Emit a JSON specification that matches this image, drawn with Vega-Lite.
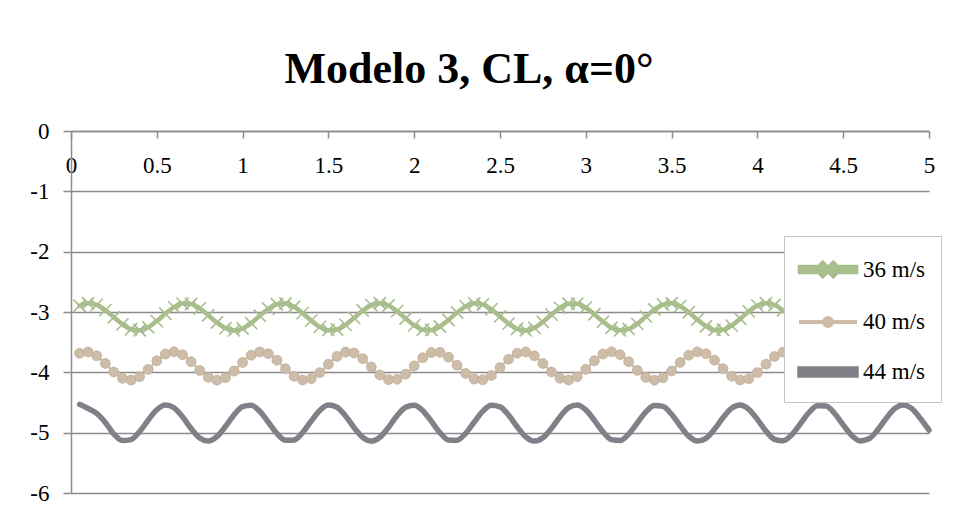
{
  "$schema": "https://vega.github.io/schema/vega-lite/v6.json",
  "width": 858,
  "height": 362,
  "autosize": {"type": "none"},
  "padding": {"left": 71, "top": 131, "right": 27, "bottom": 30},
  "background": "white",
  "config": {
    "view": {"stroke": null},
    "font": "Liberation Serif"
  },
  "title": {
    "text": "Modelo 3, CL, α=0°",
    "font": "Liberation Serif",
    "fontSize": 44,
    "fontWeight": "bold",
    "color": "#000000",
    "anchor": "middle",
    "frame": "group",
    "baseline": "alphabetic",
    "offset": -7,
    "dx": -31
  },
  "data": {"values": [
    {"s":"36 m/s","t":0.05,"v":-2.897},{"s":"36 m/s","t":0.10,"v":-2.855},{"s":"36 m/s","t":0.15,"v":-2.881},{"s":"36 m/s","t":0.20,"v":-2.968},{"s":"36 m/s","t":0.25,"v":-3.088},
    {"s":"36 m/s","t":0.30,"v":-3.205},{"s":"36 m/s","t":0.35,"v":-3.285},{"s":"36 m/s","t":0.40,"v":-3.303},{"s":"36 m/s","t":0.45,"v":-3.253},{"s":"36 m/s","t":0.50,"v":-3.151},
    {"s":"36 m/s","t":0.55,"v":-3.028},{"s":"36 m/s","t":0.60,"v":-2.920},{"s":"36 m/s","t":0.65,"v":-2.861},{"s":"36 m/s","t":0.70,"v":-2.867},{"s":"36 m/s","t":0.75,"v":-2.939},
    {"s":"36 m/s","t":0.80,"v":-3.053},{"s":"36 m/s","t":0.85,"v":-3.175},{"s":"36 m/s","t":0.90,"v":-3.268},{"s":"36 m/s","t":0.95,"v":-3.305},{"s":"36 m/s","t":1.00,"v":-3.274},
    {"s":"36 m/s","t":1.05,"v":-3.184},{"s":"36 m/s","t":1.10,"v":-3.062},{"s":"36 m/s","t":1.15,"v":-2.947},{"s":"36 m/s","t":1.20,"v":-2.871},{"s":"36 m/s","t":1.25,"v":-2.859},
    {"s":"36 m/s","t":1.30,"v":-2.913},{"s":"36 m/s","t":1.35,"v":-3.018},{"s":"36 m/s","t":1.40,"v":-3.142},{"s":"36 m/s","t":1.45,"v":-3.247},{"s":"36 m/s","t":1.50,"v":-3.301},
    {"s":"36 m/s","t":1.55,"v":-3.289},{"s":"36 m/s","t":1.60,"v":-3.213},{"s":"36 m/s","t":1.65,"v":-3.098},{"s":"36 m/s","t":1.70,"v":-2.976},{"s":"36 m/s","t":1.75,"v":-2.886},
    {"s":"36 m/s","t":1.80,"v":-2.855},{"s":"36 m/s","t":1.85,"v":-2.892},{"s":"36 m/s","t":1.90,"v":-2.985},{"s":"36 m/s","t":1.95,"v":-3.108},{"s":"36 m/s","t":2.00,"v":-3.221},
    {"s":"36 m/s","t":2.05,"v":-3.293},{"s":"36 m/s","t":2.10,"v":-3.299},{"s":"36 m/s","t":2.15,"v":-3.240},{"s":"36 m/s","t":2.20,"v":-3.132},{"s":"36 m/s","t":2.25,"v":-3.009},
    {"s":"36 m/s","t":2.30,"v":-2.907},{"s":"36 m/s","t":2.35,"v":-2.857},{"s":"36 m/s","t":2.40,"v":-2.875},{"s":"36 m/s","t":2.45,"v":-2.955},{"s":"36 m/s","t":2.50,"v":-3.073},
    {"s":"36 m/s","t":2.55,"v":-3.193},{"s":"36 m/s","t":2.60,"v":-3.278},{"s":"36 m/s","t":2.65,"v":-3.305},{"s":"36 m/s","t":2.70,"v":-3.263},{"s":"36 m/s","t":2.75,"v":-3.165},
    {"s":"36 m/s","t":2.80,"v":-3.043},{"s":"36 m/s","t":2.85,"v":-2.931},{"s":"36 m/s","t":2.90,"v":-2.864},{"s":"36 m/s","t":2.95,"v":-2.863},{"s":"36 m/s","t":3.00,"v":-2.927},
    {"s":"36 m/s","t":3.05,"v":-3.038},{"s":"36 m/s","t":3.10,"v":-3.161},{"s":"36 m/s","t":3.15,"v":-3.260},{"s":"36 m/s","t":3.20,"v":-3.304},{"s":"36 m/s","t":3.25,"v":-3.281},
    {"s":"36 m/s","t":3.30,"v":-3.197},{"s":"36 m/s","t":3.35,"v":-3.077},{"s":"36 m/s","t":3.40,"v":-2.959},{"s":"36 m/s","t":3.45,"v":-2.877},{"s":"36 m/s","t":3.50,"v":-2.856},
    {"s":"36 m/s","t":3.55,"v":-2.903},{"s":"36 m/s","t":3.60,"v":-3.004},{"s":"36 m/s","t":3.65,"v":-3.127},{"s":"36 m/s","t":3.70,"v":-3.236},{"s":"36 m/s","t":3.75,"v":-3.298},
    {"s":"36 m/s","t":3.80,"v":-3.294},{"s":"36 m/s","t":3.85,"v":-3.225},{"s":"36 m/s","t":3.90,"v":-3.112},{"s":"36 m/s","t":3.95,"v":-2.990},{"s":"36 m/s","t":4.00,"v":-2.894},
    {"s":"36 m/s","t":4.05,"v":-2.855},{"s":"36 m/s","t":4.10,"v":-2.884},{"s":"36 m/s","t":4.15,"v":-2.972},{"s":"36 m/s","t":4.20,"v":-3.093},{"s":"36 m/s","t":4.25,"v":-3.209},
    {"s":"36 m/s","t":4.30,"v":-3.287},{"s":"36 m/s","t":4.35,"v":-3.302},{"s":"36 m/s","t":4.40,"v":-3.250},{"s":"36 m/s","t":4.45,"v":-3.147},{"s":"36 m/s","t":4.50,"v":-3.023},
    {"s":"36 m/s","t":4.55,"v":-2.917},{"s":"36 m/s","t":4.60,"v":-2.860},{"s":"36 m/s","t":4.65,"v":-2.869},{"s":"36 m/s","t":4.70,"v":-2.943},{"s":"36 m/s","t":4.75,"v":-3.058},
    {"s":"36 m/s","t":4.80,"v":-3.179},{"s":"36 m/s","t":4.85,"v":-3.271},{"s":"36 m/s","t":4.90,"v":-3.305},{"s":"36 m/s","t":4.95,"v":-3.271},{"s":"36 m/s","t":5.00,"v":-3.179},

    {"s":"40 m/s","t":0.05,"v":-3.684},{"s":"40 m/s","t":0.10,"v":-3.663},{"s":"40 m/s","t":0.15,"v":-3.727},{"s":"40 m/s","t":0.20,"v":-3.853},{"s":"40 m/s","t":0.25,"v":-3.995},
    {"s":"40 m/s","t":0.30,"v":-4.099},{"s":"40 m/s","t":0.35,"v":-4.129},{"s":"40 m/s","t":0.40,"v":-4.072},{"s":"40 m/s","t":0.45,"v":-3.951},{"s":"40 m/s","t":0.50,"v":-3.809},
    {"s":"40 m/s","t":0.55,"v":-3.698},{"s":"40 m/s","t":0.60,"v":-3.660},{"s":"40 m/s","t":0.65,"v":-3.708},{"s":"40 m/s","t":0.70,"v":-3.825},{"s":"40 m/s","t":0.75,"v":-3.968},
    {"s":"40 m/s","t":0.80,"v":-4.083},{"s":"40 m/s","t":0.85,"v":-4.130},{"s":"40 m/s","t":0.90,"v":-4.090},{"s":"40 m/s","t":0.95,"v":-3.979},{"s":"40 m/s","t":1.00,"v":-3.836},
    {"s":"40 m/s","t":1.05,"v":-3.716},{"s":"40 m/s","t":1.10,"v":-3.661},{"s":"40 m/s","t":1.15,"v":-3.692},{"s":"40 m/s","t":1.20,"v":-3.798},{"s":"40 m/s","t":1.25,"v":-3.940},
    {"s":"40 m/s","t":1.30,"v":-4.065},{"s":"40 m/s","t":1.35,"v":-4.127},{"s":"40 m/s","t":1.40,"v":-4.105},{"s":"40 m/s","t":1.45,"v":-4.005},{"s":"40 m/s","t":1.50,"v":-3.865},
    {"s":"40 m/s","t":1.55,"v":-3.736},{"s":"40 m/s","t":1.60,"v":-3.665},{"s":"40 m/s","t":1.65,"v":-3.679},{"s":"40 m/s","t":1.70,"v":-3.773},{"s":"40 m/s","t":1.75,"v":-3.911},
    {"s":"40 m/s","t":1.80,"v":-4.043},{"s":"40 m/s","t":1.85,"v":-4.121},{"s":"40 m/s","t":1.90,"v":-4.116},{"s":"40 m/s","t":1.95,"v":-4.030},{"s":"40 m/s","t":2.00,"v":-3.894},
    {"s":"40 m/s","t":2.05,"v":-3.758},{"s":"40 m/s","t":2.10,"v":-3.673},{"s":"40 m/s","t":2.15,"v":-3.669},{"s":"40 m/s","t":2.20,"v":-3.749},{"s":"40 m/s","t":2.25,"v":-3.882},
    {"s":"40 m/s","t":2.30,"v":-4.020},{"s":"40 m/s","t":2.35,"v":-4.112},{"s":"40 m/s","t":2.40,"v":-4.124},{"s":"40 m/s","t":2.45,"v":-4.052},{"s":"40 m/s","t":2.50,"v":-3.922},
    {"s":"40 m/s","t":2.55,"v":-3.783},{"s":"40 m/s","t":2.60,"v":-3.684},{"s":"40 m/s","t":2.65,"v":-3.663},{"s":"40 m/s","t":2.70,"v":-3.727},{"s":"40 m/s","t":2.75,"v":-3.853},
    {"s":"40 m/s","t":2.80,"v":-3.995},{"s":"40 m/s","t":2.85,"v":-4.099},{"s":"40 m/s","t":2.90,"v":-4.129},{"s":"40 m/s","t":2.95,"v":-4.072},{"s":"40 m/s","t":3.00,"v":-3.951},
    {"s":"40 m/s","t":3.05,"v":-3.809},{"s":"40 m/s","t":3.10,"v":-3.698},{"s":"40 m/s","t":3.15,"v":-3.660},{"s":"40 m/s","t":3.20,"v":-3.708},{"s":"40 m/s","t":3.25,"v":-3.825},
    {"s":"40 m/s","t":3.30,"v":-3.968},{"s":"40 m/s","t":3.35,"v":-4.083},{"s":"40 m/s","t":3.40,"v":-4.130},{"s":"40 m/s","t":3.45,"v":-4.090},{"s":"40 m/s","t":3.50,"v":-3.979},
    {"s":"40 m/s","t":3.55,"v":-3.836},{"s":"40 m/s","t":3.60,"v":-3.716},{"s":"40 m/s","t":3.65,"v":-3.661},{"s":"40 m/s","t":3.70,"v":-3.692},{"s":"40 m/s","t":3.75,"v":-3.798},
    {"s":"40 m/s","t":3.80,"v":-3.940},{"s":"40 m/s","t":3.85,"v":-4.065},{"s":"40 m/s","t":3.90,"v":-4.127},{"s":"40 m/s","t":3.95,"v":-4.105},{"s":"40 m/s","t":4.00,"v":-4.005},
    {"s":"40 m/s","t":4.05,"v":-3.865},{"s":"40 m/s","t":4.10,"v":-3.736},{"s":"40 m/s","t":4.15,"v":-3.665},{"s":"40 m/s","t":4.20,"v":-3.679},{"s":"40 m/s","t":4.25,"v":-3.773},
    {"s":"40 m/s","t":4.30,"v":-3.911},{"s":"40 m/s","t":4.35,"v":-4.043},{"s":"40 m/s","t":4.40,"v":-4.121},{"s":"40 m/s","t":4.45,"v":-4.116},{"s":"40 m/s","t":4.50,"v":-4.030},
    {"s":"40 m/s","t":4.55,"v":-3.894},{"s":"40 m/s","t":4.60,"v":-3.758},{"s":"40 m/s","t":4.65,"v":-3.673},{"s":"40 m/s","t":4.70,"v":-3.669},{"s":"40 m/s","t":4.75,"v":-3.749},
    {"s":"40 m/s","t":4.80,"v":-3.882},{"s":"40 m/s","t":4.85,"v":-4.020},{"s":"40 m/s","t":4.90,"v":-4.112},{"s":"40 m/s","t":4.95,"v":-4.124},{"s":"40 m/s","t":5.00,"v":-4.052},

    {"s":"44 m/s","t":0.05,"v":-4.530},{"s":"44 m/s","t":0.10,"v":-4.600},{"s":"44 m/s","t":0.15,"v":-4.680},{"s":"44 m/s","t":0.20,"v":-4.830},{"s":"44 m/s","t":0.25,"v":-5.026},
    {"s":"44 m/s","t":0.30,"v":-5.131},{"s":"44 m/s","t":0.35,"v":-5.115},{"s":"44 m/s","t":0.40,"v":-4.983},{"s":"44 m/s","t":0.45,"v":-4.792},{"s":"44 m/s","t":0.50,"v":-4.621},
    {"s":"44 m/s","t":0.55,"v":-4.541},{"s":"44 m/s","t":0.60,"v":-4.587},{"s":"44 m/s","t":0.65,"v":-4.738},{"s":"44 m/s","t":0.70,"v":-4.932},{"s":"44 m/s","t":0.75,"v":-5.088},
    {"s":"44 m/s","t":0.80,"v":-5.139},{"s":"44 m/s","t":0.85,"v":-5.066},{"s":"44 m/s","t":0.90,"v":-4.898},{"s":"44 m/s","t":0.95,"v":-4.706},{"s":"44 m/s","t":1.00,"v":-4.570},
    {"s":"44 m/s","t":1.05,"v":-4.547},{"s":"44 m/s","t":1.10,"v":-4.646},{"s":"44 m/s","t":1.15,"v":-4.827},{"s":"44 m/s","t":1.20,"v":-5.013},{"s":"44 m/s","t":1.25,"v":-5.127},
    {"s":"44 m/s","t":1.30,"v":-5.121},{"s":"44 m/s","t":1.35,"v":-4.997},{"s":"44 m/s","t":1.40,"v":-4.807},{"s":"44 m/s","t":1.45,"v":-4.632},{"s":"44 m/s","t":1.50,"v":-4.543},
    {"s":"44 m/s","t":1.55,"v":-4.579},{"s":"44 m/s","t":1.60,"v":-4.724},{"s":"44 m/s","t":1.65,"v":-4.917},{"s":"44 m/s","t":1.70,"v":-5.078},{"s":"44 m/s","t":1.75,"v":-5.140},
    {"s":"44 m/s","t":1.80,"v":-5.076},{"s":"44 m/s","t":1.85,"v":-4.913},{"s":"44 m/s","t":1.90,"v":-4.720},{"s":"44 m/s","t":1.95,"v":-4.577},{"s":"44 m/s","t":2.00,"v":-4.544},
    {"s":"44 m/s","t":2.05,"v":-4.635},{"s":"44 m/s","t":2.10,"v":-4.811},{"s":"44 m/s","t":2.15,"v":-5.000},{"s":"44 m/s","t":2.20,"v":-5.122},{"s":"44 m/s","t":2.25,"v":-5.126},
    {"s":"44 m/s","t":2.30,"v":-5.010},{"s":"44 m/s","t":2.35,"v":-4.823},{"s":"44 m/s","t":2.40,"v":-4.643},{"s":"44 m/s","t":2.45,"v":-4.546},{"s":"44 m/s","t":2.50,"v":-4.571},
    {"s":"44 m/s","t":2.55,"v":-4.709},{"s":"44 m/s","t":2.60,"v":-4.902},{"s":"44 m/s","t":2.65,"v":-5.069},{"s":"44 m/s","t":2.70,"v":-5.140},{"s":"44 m/s","t":2.75,"v":-5.085},
    {"s":"44 m/s","t":2.80,"v":-4.929},{"s":"44 m/s","t":2.85,"v":-4.735},{"s":"44 m/s","t":2.90,"v":-4.585},{"s":"44 m/s","t":2.95,"v":-4.542},{"s":"44 m/s","t":3.00,"v":-4.623},
    {"s":"44 m/s","t":3.05,"v":-4.796},{"s":"44 m/s","t":3.10,"v":-4.987},{"s":"44 m/s","t":3.15,"v":-5.116},{"s":"44 m/s","t":3.20,"v":-5.130},{"s":"44 m/s","t":3.25,"v":-5.023},
    {"s":"44 m/s","t":3.30,"v":-4.839},{"s":"44 m/s","t":3.35,"v":-4.656},{"s":"44 m/s","t":3.40,"v":-4.549},{"s":"44 m/s","t":3.45,"v":-4.565},{"s":"44 m/s","t":3.50,"v":-4.695},
    {"s":"44 m/s","t":3.55,"v":-4.886},{"s":"44 m/s","t":3.60,"v":-5.058},{"s":"44 m/s","t":3.65,"v":-5.139},{"s":"44 m/s","t":3.70,"v":-5.094},{"s":"44 m/s","t":3.75,"v":-4.944},
    {"s":"44 m/s","t":3.80,"v":-4.750},{"s":"44 m/s","t":3.85,"v":-4.593},{"s":"44 m/s","t":3.90,"v":-4.540},{"s":"44 m/s","t":3.95,"v":-4.613},{"s":"44 m/s","t":4.00,"v":-4.780},
    {"s":"44 m/s","t":4.05,"v":-4.973},{"s":"44 m/s","t":4.10,"v":-5.110},{"s":"44 m/s","t":4.15,"v":-5.134},{"s":"44 m/s","t":4.20,"v":-5.035},{"s":"44 m/s","t":4.25,"v":-4.855},
    {"s":"44 m/s","t":4.30,"v":-4.668},{"s":"44 m/s","t":4.35,"v":-4.554},{"s":"44 m/s","t":4.40,"v":-4.559},{"s":"44 m/s","t":4.45,"v":-4.682},{"s":"44 m/s","t":4.50,"v":-4.871},
    {"s":"44 m/s","t":4.55,"v":-5.047},{"s":"44 m/s","t":4.60,"v":-5.137},{"s":"44 m/s","t":4.65,"v":-5.102},{"s":"44 m/s","t":4.70,"v":-4.958},{"s":"44 m/s","t":4.75,"v":-4.765},
    {"s":"44 m/s","t":4.80,"v":-4.603},{"s":"44 m/s","t":4.85,"v":-4.540},{"s":"44 m/s","t":4.90,"v":-4.603},{"s":"44 m/s","t":4.95,"v":-4.765},{"s":"44 m/s","t":5.00,"v":-4.958}
  ]},
  "encoding": {
    "x": {
      "field": "t", "type": "quantitative",
      "scale": {"domain": [0, 5], "nice": false, "zero": false},
      "axis": {
        "orient": "top", "title": null, "values": [0, 0.5, 1, 1.5, 2, 2.5, 3, 3.5, 4, 4.5, 5],
        "format": "~g", "grid": false, "domain": true, "domainColor": "#8C8C8C", "domainWidth": 1.5,
        "ticks": true, "tickSize": -7, "tickColor": "#8C8C8C", "tickWidth": 1.5,
        "labelBaseline": "middle", "labelPadding": -27, "labelFlush": false, "labelOverlap": false,
        "labelFont": "Liberation Serif", "labelFontSize": 23, "labelColor": "#000000"
      }
    },
    "y": {
      "field": "v", "type": "quantitative",
      "scale": {"domain": [-6, 0], "nice": false, "zero": false},
      "axis": {
        "title": null, "values": [-6, -5, -4, -3, -2, -1, 0],
        "labelExpr": "datum.value == 0 ? '0' : '-' + abs(datum.value)",
        "grid": true, "gridColor": "#8C8C8C", "gridWidth": 1.5,
        "domain": true, "domainColor": "#8C8C8C", "domainWidth": 1.5,
        "ticks": true, "tickSize": 8, "tickColor": "#8C8C8C", "tickWidth": 1.5,
        "labelPadding": 14, "labelFont": "Liberation Serif", "labelFontSize": 23, "labelColor": "#000000"
      }
    }
  },
  "layer": [
    {
      "mark": {"type": "line", "interpolate": "monotone", "strokeCap": "round", "strokeJoin": "round"},
      "encoding": {
        "color": {
          "field": "s", "type": "nominal",
          "scale": {"domain": ["36 m/s", "40 m/s", "44 m/s"], "range": ["#A8BE8C", "#CDBCA7", "#817F87"]},
          "legend": {
            "title": null, "orient": "none", "legendX": 713, "legendY": 105,
            "padding": 16, "strokeColor": "#C4C4C4", "fillColor": "#FFFFFF",
            "symbolSize": 900, "labelFont": "Liberation Serif", "labelFontSize": 23, "labelColor": "#000000",
            "labelOffset": 27, "rowPadding": 20,
            "encode": {
              "symbols": {
                "update": {
                  "shape": {"signal": "datum.value === '36 m/s' ? 'M-1.2,-0.16L2.533,-0.16L2.533,0.16L-1.2,0.16Z M0.309,-0.442L1.109,0.358L1.025,0.442L0.225,-0.358Z M0.225,0.358L1.025,-0.442L1.109,-0.358L0.309,0.442Z' : datum.value === '40 m/s' ? 'M-1.2,-0.067L2.533,-0.067L2.533,0.067L-1.2,0.067Z M1.0,0A0.333,0.333 0 1,1 0.334,0A0.333,0.333 0 1,1 1.0,0Z' : 'M-1.2,-0.2L2.533,-0.2L2.533,0.2L-1.2,0.2Z'"},
                  "fill": {"scale": "color", "field": "value"},
                  "stroke": {"value": "transparent"},
                  "strokeWidth": {"value": 0},
                  "opacity": {"value": 1}
                }
              }
            }
          }
        },
        "strokeWidth": {
          "field": "s", "type": "nominal",
          "scale": {"type": "ordinal", "domain": ["36 m/s", "40 m/s", "44 m/s"], "range": [4.5, 2, 5.5]},
          "legend": null
        }
      }
    },
    {
      "transform": [{"filter": "datum.s === '36 m/s'"}],
      "mark": {"type": "point", "shape": "M-1,-1L1,1M-1,1L1,-1", "filled": false, "stroke": "#A8BE8C", "strokeWidth": 1.6, "size": 150, "opacity": 1}
    },
    {
      "transform": [{"filter": "datum.s === '40 m/s'"}],
      "mark": {"type": "point", "shape": "circle", "filled": true, "fill": "#CDBCA7", "stroke": "#B9A892", "strokeWidth": 0.6, "size": 100, "opacity": 1}
    }
  ]
}
